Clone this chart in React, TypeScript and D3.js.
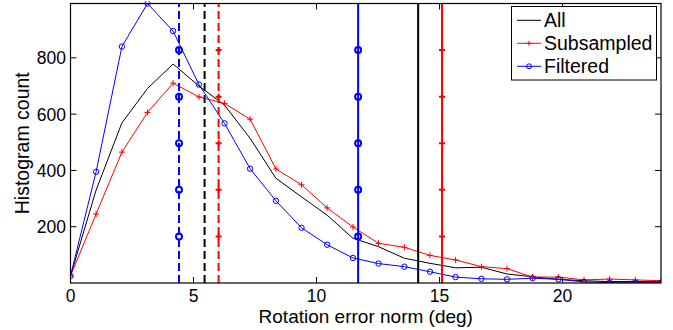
import React from 'react';
import * as d3 from 'd3';

const binCenters = [0, 1.04, 2.09, 3.13, 4.17, 5.22, 6.26, 7.3, 8.35, 9.39, 10.43, 11.48, 12.52, 13.57, 14.61, 15.65, 16.7, 17.74, 18.78, 19.83, 20.87, 21.91, 22.96, 24];
const allCounts = [25, 330, 569, 691, 778, 700, 632, 514, 372, 306, 241, 159, 129, 88, 70, 54, 56, 32, 22, 13, 8, 5, 5, 5];
const subCounts = [25, 245, 465, 606, 710, 661, 638, 582, 405, 349, 267, 199, 141, 127, 98, 82, 58, 51, 21, 21, 11, 14, 11, 8];
const filtCounts = [25, 395, 840, 993, 895, 705, 567, 406, 292, 196, 136, 89, 69, 58, 40, 21, 15, 13, 17, 13, 4, 1, 1, 1];
const seriesNames = ['All', 'Subsampled', 'Filtered'];
const seriesColors = ['#000000', '#ff0000', '#0000ff'];
const medianX = [5.45, 6.02, 4.41];
const p90X = [14.13, 15.1, 11.69];
const markerLevels = [165.5, 331, 496.5, 662, 827.5];
const xTicks = [0, 5, 10, 15, 20];
const yTicks = [200, 400, 600, 800];
const xDomain = [0, 24];
const yDomain = [0, 993];

const L = 70.5, R = 661, T = 3.5, B = 283;
const FONT = '"Liberation Sans", Arial, Helvetica, sans-serif';

function Plus({ x, y, s, color, w }: { x: number; y: number; s: number; color: string; w: number }) {
  return (
    <g stroke={color} strokeWidth={w}>
      <line x1={x - s} x2={x + s} y1={y} y2={y} />
      <line x1={x} x2={x} y1={y - s} y2={y + s} />
    </g>
  );
}

export default function App() {
  const x = d3.scaleLinear().domain(xDomain).range([L, R]);
  const y = d3.scaleLinear().domain(yDomain).range([B, T]);
  const line = d3.line<number>().x((_, i) => x(binCenters[i])).y((d) => y(d));
  const data = [allCounts, subCounts, filtCounts];

  return (
    <svg width={673} height={330} style={{ position: 'absolute', left: 0, top: 0, background: '#fff' }} fontFamily={FONT}>
      <rect x={0} y={0} width={673} height={330} fill="#fff" />
      <defs>
        <clipPath id="plot">
          <rect x={L} y={T - 2} width={R - L} height={B - T + 2} />
        </clipPath>
      </defs>
      <g clipPath="url(#plot)">
        {data.map((d, si) => (
          <path key={si} d={line(d) || ''} fill="none" stroke={seriesColors[si]} strokeWidth={1} />
        ))}
        {subCounts.map((v, i) => (
          <Plus key={'p' + i} x={x(binCenters[i])} y={y(v)} s={3} color="#ff0000" w={1} />
        ))}
        {filtCounts.map((v, i) => (
          <circle key={'c' + i} cx={x(binCenters[i])} cy={y(v)} r={2.7} fill="none" stroke="#0000ff" strokeWidth={1} />
        ))}
        {medianX.map((mx, si) => (
          <line key={'m' + si} x1={x(mx)} x2={x(mx)} y1={y(yDomain[0])} y2={y(yDomain[1])} stroke={seriesColors[si]} strokeWidth={2} strokeDasharray="8,4" />
        ))}
        {p90X.map((px, si) => (
          <line key={'q' + si} x1={x(px)} x2={x(px)} y1={y(yDomain[0])} y2={y(yDomain[1])} stroke={seriesColors[si]} strokeWidth={2} />
        ))}
        {[medianX, p90X].map((arr, k) =>
          markerLevels.map((lv, j) => (
            <g key={'mk' + k + '_' + j}>
              <Plus x={x(arr[1])} y={y(lv)} s={3} color="#ff0000" w={2} />
              <circle cx={x(arr[2])} cy={y(lv)} r={3} fill="none" stroke="#0000ff" strokeWidth={2} />
            </g>
          ))
        )}
      </g>
      {/* axes box */}
      <rect x={L} y={T} width={R - L} height={B - T} fill="none" stroke="#000" strokeWidth={1.2} />
      {xTicks.map((t) => (
        <g key={'xt' + t}>
          <line x1={x(t)} x2={x(t)} y1={B} y2={B - 6} stroke="#000" />
          <line x1={x(t)} x2={x(t)} y1={T} y2={T + 6} stroke="#000" />
          <text x={x(t)} y={302} textAnchor="middle" fontSize={17.5}>{t}</text>
        </g>
      ))}
      {yTicks.map((t) => (
        <g key={'yt' + t}>
          <line x1={L} x2={L + 6} y1={y(t)} y2={y(t)} stroke="#000" />
          <line x1={R} x2={R - 6} y1={y(t)} y2={y(t)} stroke="#000" />
          <text x={66} y={y(t) + 6.5} textAnchor="end" fontSize={17.5}>{t}</text>
        </g>
      ))}
      <text x={(L + R) / 2} y={323} textAnchor="middle" fontSize={19}>Rotation error norm (deg)</text>
      <text transform={`translate(29,${(T + B) / 2}) rotate(-90)`} textAnchor="middle" fontSize={19.5}>Histogram count</text>
      {/* legend */}
      <rect x={511.5} y={6.5} width={145} height={73.5} fill="#fff" stroke="#000" strokeWidth={1} />
      {seriesNames.map((n, i) => {
        const by = 27.3 + i * 23;
        const ly = by - 7;
        return (
          <g key={'lg' + i}>
            <line x1={517} x2={541} y1={ly} y2={ly} stroke={seriesColors[i]} strokeWidth={1} />
            {i === 1 && <Plus x={529} y={ly} s={2.5} color="#ff0000" w={1} />}
            {i === 2 && <circle cx={529} cy={ly} r={2.5} fill="none" stroke="#0000ff" strokeWidth={1} />}
            <text x={544} y={by} fontSize={19.5}>{n}</text>
          </g>
        );
      })}
    </svg>
  );
}
